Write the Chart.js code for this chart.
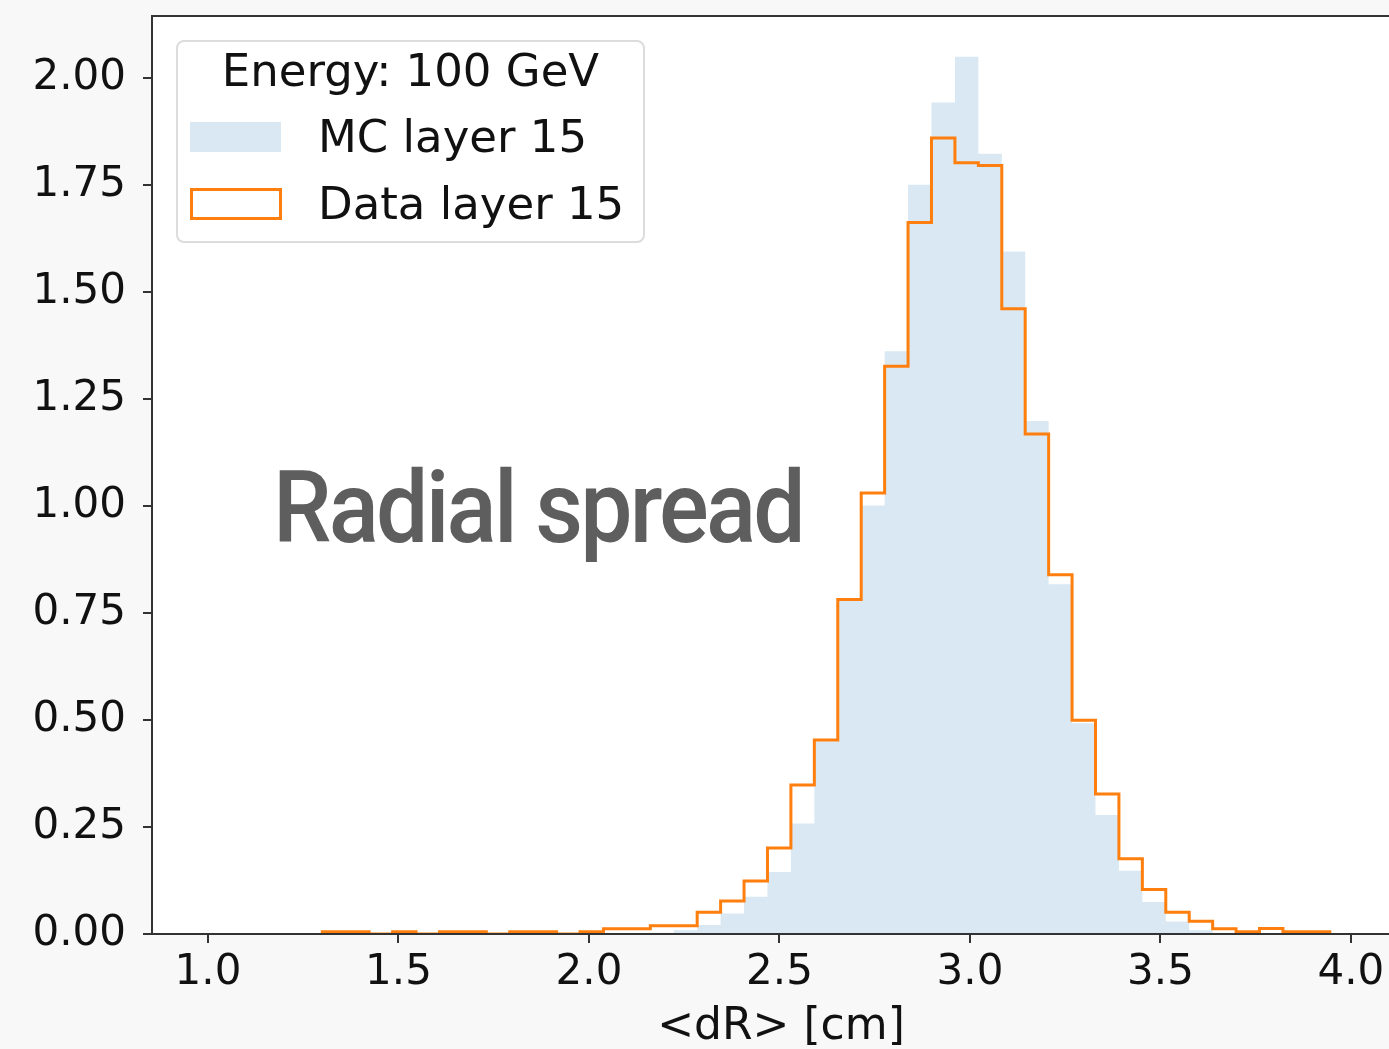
<!DOCTYPE html>
<html>
<head>
<meta charset="utf-8">
<title>Radial spread</title>
<script src="https://cdn.jsdelivr.net/npm/chart.js@4.4.1/dist/chart.umd.min.js"></script>
<style>
    html, body { margin: 0; padding: 0; background: #f8f8f8; overflow: hidden; }
    #wrap { position: relative; width: 1420px; height: 1049px; }
    #histChart { position: absolute; left: 0; top: 0; }
    #legend {
        position: absolute; left: 176px; top: 40px; width: 469px; height: 203px;
        box-sizing: border-box; border: 2px solid #dcdcdc; border-radius: 8px;
        background: rgba(255, 255, 255, 0.8);
        font-family: 'DejaVu Sans', sans-serif; font-size: 45px; color: #111;
    }
    #legend .lg-title { position: absolute; left: 0; right: 0; top: 7px; line-height: 44px; text-align: center; white-space: nowrap; }
    #legend .lg-patch { position: absolute; left: 12px; box-sizing: border-box; }
    #legend .lg-text { position: absolute; left: 140px; line-height: 44px; white-space: nowrap; }
    #overlay {
        position: absolute; left: 273px; top: 458px;
        font-family: Roboto, 'Noto Sans', sans-serif; font-weight: 500; font-size: 100px; line-height: 100px;
        letter-spacing: -3px;
        color: #5e5e5e; white-space: nowrap; transform: scaleX(0.93); transform-origin: left top;
    }
</style>
</head>
<body>
<div id="wrap">
    <canvas id="histChart" width="1420" height="1049"></canvas>
    <div id="legend"></div>
    <div id="overlay">Radial spread</div>
</div>
<script>
    // Histogram bin edges (<dR> in cm), shared by both series
    const binEdges = [
        1.3000, 1.3615, 1.4230, 1.4845, 1.5460, 1.6075, 1.6690, 1.7305, 1.7920, 1.8535,
        1.9150, 1.9765, 2.0380, 2.0995, 2.1610, 2.2225, 2.2840, 2.3455, 2.4070, 2.4685,
        2.5300, 2.5915, 2.6530, 2.7145, 2.7760, 2.8375, 2.8990, 2.9605, 3.0220, 3.0835,
        3.1450, 3.2065, 3.2680, 3.3295, 3.3910, 3.4525, 3.5140, 3.5755, 3.6370, 3.6985,
        3.7600, 3.8215, 3.8830, 3.9445
    ];

    // Normalised bin contents, MC layer 15
    const mcLayer15 = [
        0, 0, 0, 0, 0, 0, 0, 0, 0, 0,
        0, 0, 0, 0, 0.003, 0.009, 0.021, 0.048, 0.087, 0.145,
        0.258, 0.450, 0.778, 1.001, 1.361, 1.750, 1.942, 2.049, 1.822, 1.594,
        1.198, 0.817, 0.492, 0.278, 0.148, 0.075, 0.029, 0.009, 0.003, 0,
        0, 0, 0
    ];

    // Normalised bin contents, Data layer 15
    const dataLayer15 = [
        0.005, 0.005, 0, 0.005, 0, 0.005, 0.005, 0, 0.005, 0.005,
        0, 0.005, 0.012, 0.012, 0.019, 0.019, 0.051, 0.077, 0.124, 0.201,
        0.348, 0.453, 0.781, 1.030, 1.326, 1.662, 1.859, 1.801, 1.795, 1.460,
        1.168, 0.839, 0.499, 0.327, 0.176, 0.104, 0.051, 0.030, 0.012, 0.005,
        0.013, 0.005, 0.005
    ];

    const xTickValues = [1.0, 1.5, 2.0, 2.5, 3.0, 3.5, 4.0];
    const yTickValues = [0, 0.25, 0.5, 0.75, 1.0, 1.25, 1.5, 1.75, 2.0];
    const legendTitle = 'Energy: 100 GeV';
    const xAxisTitle = '<dR> [cm]';

    Chart.defaults.font.family = "'DejaVu Sans', sans-serif";
    Chart.defaults.color = '#111';

    // turn bin edges + heights into points for a stepped line
    function stepPoints(edges, heights) {
        const pts = [{ x: edges[0], y: 0 }];
        heights.forEach((h, i) => pts.push({ x: edges[i], y: h }));
        pts.push({ x: edges[edges.length - 1], y: 0 });
        return pts;
    }

    // white plot area + black frame like matplotlib spines
    const framePlugin = {
        id: 'frame',
        beforeDatasetsDraw(chart) {
            const { ctx, chartArea: a } = chart;
            ctx.save();
            ctx.fillStyle = '#ffffff';
            ctx.fillRect(a.left, a.top, a.right - a.left, a.bottom - a.top);
            ctx.restore();
        },
        afterDraw(chart) {
            const { ctx, chartArea: a } = chart;
            ctx.save();
            ctx.strokeStyle = '#333';
            ctx.lineWidth = 2;
            ctx.strokeRect(a.left, a.top, a.right - a.left, a.bottom - a.top);
            ctx.restore();
        }
    };

    const ctx = document.getElementById('histChart').getContext('2d');
    const histChart = new Chart(ctx, {
        type: 'line',
        data: {
            datasets: [
                {
                    label: 'MC layer 15',
                    data: stepPoints(binEdges, mcLayer15),
                    stepped: 'before',
                    fill: 'origin',
                    backgroundColor: 'rgba(31, 119, 180, 0.17)',
                    borderColor: 'rgba(0,0,0,0)',
                    borderWidth: 0,
                    pointRadius: 0,
                    order: 2
                },
                {
                    label: 'Data layer 15',
                    data: stepPoints(binEdges, dataLayer15),
                    stepped: 'before',
                    fill: false,
                    borderColor: '#ff7f0e',
                    borderWidth: 3,
                    borderJoinStyle: 'miter',
                    backgroundColor: '#ffffff',
                    pointRadius: 0,
                    order: 1
                }
            ]
        },
        options: {
            responsive: false,
            animation: false,
            devicePixelRatio: 1,
            layout: { padding: { top: 16, right: 10, left: 0, bottom: 0 } },
            plugins: {
                legend: { display: false },
                tooltip: { enabled: false }
            },
            scales: {
                x: {
                    type: 'linear',
                    min: 0.853,
                    max: 4.155,
                    afterBuildTicks: scale => { scale.ticks = xTickValues.map(v => ({ value: v })); },
                    afterFit: scale => {
                        scale.height = 115;
                        scale.paddingLeft = 0;
                        scale.paddingRight = 0;
                    },
                    grid: { drawOnChartArea: false, color: '#333', lineWidth: 2, tickLength: 9 },
                    border: { display: false },
                    ticks: {
                        font: { size: 42 },
                        padding: 5,
                        maxRotation: 0,
                        callback: v => v.toFixed(1)
                    },
                    title: {
                        display: true,
                        text: xAxisTitle,
                        font: { size: 44 },
                        color: '#111',
                        padding: { top: 0, bottom: -5 }
                    }
                },
                y: {
                    min: 0,
                    max: 2.144,
                    afterBuildTicks: scale => { scale.ticks = yTickValues.map(v => ({ value: v })); },
                    afterFit: scale => {
                        scale.width = 152;
                        scale.paddingTop = 0;
                        scale.paddingBottom = 0;
                    },
                    grid: { drawOnChartArea: false, color: '#333', lineWidth: 2, tickLength: 9 },
                    border: { display: false },
                    ticks: {
                        font: { size: 42 },
                        padding: 17,
                        callback: v => v.toFixed(2)
                    }
                }
            }
        },
        plugins: [framePlugin]
    });

    // matplotlib-style legend box built from the datasets
    function buildLegend(chart) {
        const el = document.getElementById('legend');
        let html = `<div class="lg-title">${legendTitle}</div>`;
        const rows = [{ patchTop: 80, textTop: 73 }, { patchTop: 146, textTop: 140 }];
        chart.data.datasets.forEach((ds, i) => {
            const r = rows[i];
            const patchStyle = ds.fill
                ? `background:${ds.backgroundColor};width:91px;height:30px;`
                : `border:3px solid ${ds.borderColor};background:#fff;width:92px;height:32px;`;
            html += `<div class="lg-patch" style="top:${r.patchTop}px;${patchStyle}"></div>`;
            html += `<div class="lg-text" style="top:${r.textTop}px;">${ds.label}</div>`;
        });
        el.innerHTML = html;
    }
    buildLegend(histChart);
</script>
</body>
</html>
